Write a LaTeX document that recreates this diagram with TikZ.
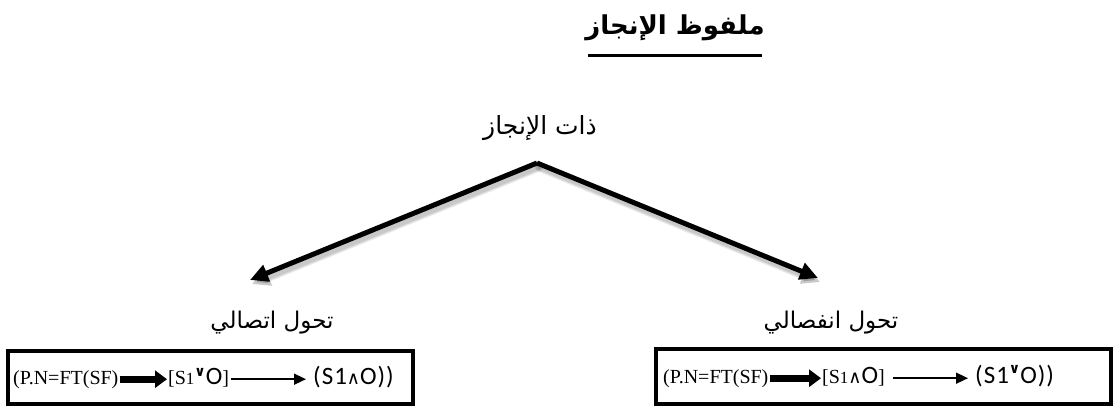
\documentclass[tikz,border=0pt]{standalone}
\usepackage{fontspec}
\setmainfont{Liberation Serif}
\newfontfamily\arabicfont[Script=Arabic]{DejaVu Sans}
\newfontfamily\calibfont[LetterSpace=4]{Carlito}
\newfontfamily\symbfont{DejaVu Sans}
\TeXXeTstate=1
\usetikzlibrary{arrows.meta}

% small logic signs used inside the formulas
\newcommand{\orsign}{{\symbfont\raisebox{0.40em}{\fontsize{14}{14}\selectfont\bfseries ∨}}}
\newcommand{\andsign}{{\symbfont\fontsize{18}{18}\selectfont ∧}}
\newcommand{\sansbit}[1]{{\calibfont\fontsize{25}{28}\selectfont #1}}

\tikzset{
  artext/.style={inner sep=0pt, font=\arabicfont\fontsize{23}{28}\selectfont},
  subjtext/.style={inner sep=0pt, font=\arabicfont\fontsize{25}{30}\selectfont},
  titletext/.style={inner sep=0pt, font=\arabicfont\bfseries\fontsize{26}{30}\selectfont},
  formula/.style={inner sep=0pt, anchor=base west, font=\fontsize{20}{24}\selectfont},
  framebox/.style={draw=black, line width=4pt},
  branch/.style={line width=5pt, -{Triangle[length=18pt,width=17pt]}},
  % soft drop shadow under the branches, built from a few faint strokes
  branchshadow/.style={line width=#1, draw=black, opacity=0.08, line cap=round,
    -{Triangle[length=18pt,width=17pt]}},
  boldarrow/.style={line width=7pt, -{Triangle[length=12pt,width=17pt]}},
  thinarrow/.style={line width=1.6pt, -{Triangle[length=12pt,width=11pt]}},
}

\begin{document}
\begin{tikzpicture}[x=1pt,y=-1pt]
\useasboundingbox (0,0) rectangle (1114,407);

% heading with its underline
\node[titletext] (title) at (675,28) {\beginR ملفوظ الإنجاز\endR};
\draw[line width=3pt] (588,55) -- (762,55);

% subject of the act and its two transformations
\node[subjtext] (subj) at (540,128) {\beginR ذات الإنجاز\endR};
\coordinate (apex) at (537,163);
\coordinate (tipL) at (250,280);
\coordinate (tipR) at (818,278);

\foreach \w in {9pt,7pt,5pt} {
  \draw[branchshadow=\w] ([shift={(2,4)}]apex) -- ([shift={(2,4)}]tipL);
  \draw[branchshadow=\w] ([shift={(2,4)}]apex) -- ([shift={(2,4)}]tipR);
}
\draw[branch] (apex) -- (tipL);
\draw[branch] (apex) -- (tipR);

\node[artext] (conj) at (272,323) {\beginR تحول اتصالي\endR};
\node[artext] (disj) at (831,323) {\beginR تحول انفصالي\endR};

% formula of the conjunctive transformation
\draw[framebox] (8,351) rectangle (413,404);
\node[formula] (l1) at (13,384) {(P.N=FT(SF)};
\node[formula] (l2) at (168,384) {[S{\fontsize{17}{17}\selectfont1}\orsign\sansbit{O}]};
\node[formula] (l3) at (313,384) {\sansbit{(S1\andsign O))}};
\draw[boldarrow] ([xshift=1pt]l1.east) -- ([xshift=-1pt]l1.east -| l2.west);
\draw[thinarrow] ([xshift=2pt]l1.east -| l2.east) -- ([xshift=-7pt]l1.east -| l3.west);

% formula of the disjunctive transformation
\draw[framebox] (656,349) rectangle (1111,404);
\node[formula] (r1) at (663,383) {(P.N=FT(SF)};
\node[formula] (r2) at (822,383) {[S{\fontsize{17}{17}\selectfont1}\andsign\sansbit{O}]};
\node[formula] (r3) at (975,383) {\sansbit{(S1\orsign O))}};
\draw[boldarrow] ([xshift=1pt]r1.east) -- ([xshift=-1pt]r1.east -| r2.west);
\draw[thinarrow] ([xshift=8pt]r1.east -| r2.east) -- ([xshift=-7pt]r1.east -| r3.west);
\end{tikzpicture}
\end{document}
